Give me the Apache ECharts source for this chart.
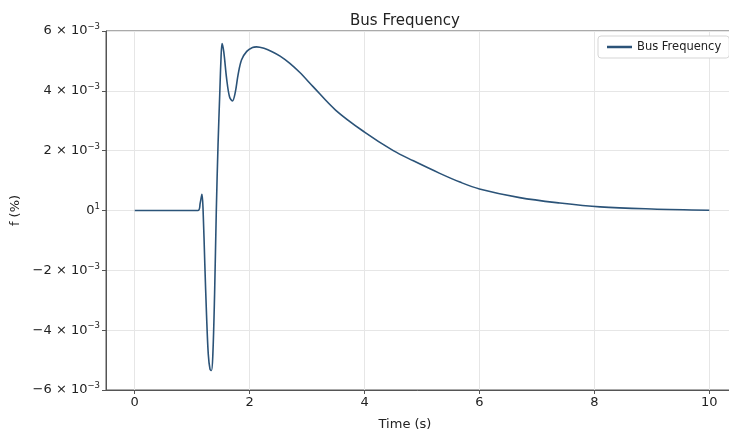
<!DOCTYPE html>
<html>
<head>
<meta charset="utf-8">
<script src="https://cdn.jsdelivr.net/npm/echarts@6/dist/echarts.min.js"></script>
<style>
  html, body { margin: 0; padding: 0; background: #fff; }
  #chart { width: 729px; height: 433px; }
</style>
</head>
<body>
<div id="chart"></div>
<script>
// time (s)
const timeS = [
  0, 1.10, 1.14, 1.17, 1.19, 1.22, 1.25, 1.28, 1.31, 1.335, 1.36, 1.39, 1.42,
  1.45, 1.48, 1.50, 1.52, 1.55, 1.60, 1.65, 1.70, 1.75, 1.80, 1.86, 1.95,
  2.05, 2.12, 2.25, 2.40, 2.53, 2.70, 2.87, 3.10, 3.50, 4.00, 4.50, 4.85,
  5.30, 5.66, 6.00, 6.70, 7.40, 8.10, 9.00, 10.00
];
// bus frequency deviation (%)
const busFreq = [
  0, 0, 0.00025, 0.00054, 0.0, -0.0018, -0.0035, -0.0048, -0.0053, -0.00535, -0.0048, -0.0028, 0.0,
  0.0022, 0.0039, 0.0050, 0.00558, 0.0053, 0.0044, 0.0038, 0.00366, 0.00395, 0.00455, 0.00504, 0.00532,
  0.00545, 0.00547, 0.00542, 0.0053, 0.00516, 0.00492, 0.00462, 0.00415, 0.00335, 0.00262, 0.0020, 0.00166,
  0.00125, 0.00095, 0.00072, 0.00043, 0.00025, 0.00012, 0.00005, 0.00001
];
const xTicks = [0, 2, 4, 6, 8, 10];

const font = 'DejaVu Sans';
const lineColor = '#2b5378';

const chart = echarts.init(document.getElementById('chart'));

function yLabel(v) {
  const m = Math.round(v * 1000);
  if (m === 0) return '{n|0}{s|1}';
  const sign = m < 0 ? '\u2212' : '';
  return '{n|' + sign + Math.abs(m) + ' \u00d7 10}{s|\u22123}';
}

chart.setOption({
  animation: false,
  title: {
    text: 'Bus Frequency',
    left: 400,
    top: 9,
    textAlign: 'center',
    textStyle: { fontFamily: font, fontSize: 15, fontWeight: 'normal', color: '#222' }
  },
  legend: {
    data: ['Bus Frequency'],
    left: 598,
    top: 36,
    padding: [5, 8, 5, 9],
    itemWidth: 25,
    itemHeight: 2.5,
    itemGap: 7,
    icon: 'rect',
    backgroundColor: '#fff',
    borderColor: '#d5d5d5',
    borderWidth: 1,
    borderRadius: 3,
    textStyle: { fontFamily: font, fontSize: 11.5, color: '#222' }
  },
  grid: {
    left: 106, top: 31, width: 632, height: 359,
    outerBoundsMode: 'none',
    containLabel: false,
    show: true,
    borderColor: '#555',
    borderWidth: 1,
    backgroundColor: 'transparent'
  },
  xAxis: {
    type: 'value',
    min: -0.5,
    max: 10.5,
    name: 'Time (s)',
    nameLocation: 'middle',
    nameGap: 28,
    nameTextStyle: { fontFamily: font, fontSize: 13, color: '#222', padding: [0, 34, 0, 0] },
    axisLine: { show: true, onZero: false, lineStyle: { color: '#555' } },
    axisTick: { show: true, length: 4, customValues: xTicks, lineStyle: { color: '#555' } },
    axisLabel: { customValues: xTicks, fontFamily: font, fontSize: 13, color: '#222', margin: 6 },
    splitLine: { show: true, lineStyle: { color: '#e6e6e6', width: 1 } }
  },
  yAxis: {
    type: 'value',
    min: -0.006,
    max: 0.006,
    interval: 0.002,
    name: 'f (%)',
    nameLocation: 'middle',
    nameGap: 82,
    nameTextStyle: { fontFamily: font, fontSize: 13, color: '#222' },
    axisLine: { show: true, onZero: false, lineStyle: { color: '#555' } },
    axisTick: { show: true, length: 4, lineStyle: { color: '#555' } },
    axisLabel: {
      formatter: yLabel,
      margin: 6,
      rich: {
        n: { fontFamily: font, fontSize: 13, color: '#222' },
        s: { fontFamily: font, fontSize: 8.5, color: '#222', padding: [0, 0, 8, 0] }
      }
    },
    splitLine: { show: true, lineStyle: { color: '#e6e6e6', width: 1 } }
  },
  series: [{
    name: 'Bus Frequency',
    type: 'line',
    data: timeS.map((t, i) => [t, busFreq[i]]),
    showSymbol: false,
    smooth: 0.35,
    color: lineColor,
    lineStyle: { color: lineColor, width: 1.6 }
  }]
});
</script>
</body>
</html>
